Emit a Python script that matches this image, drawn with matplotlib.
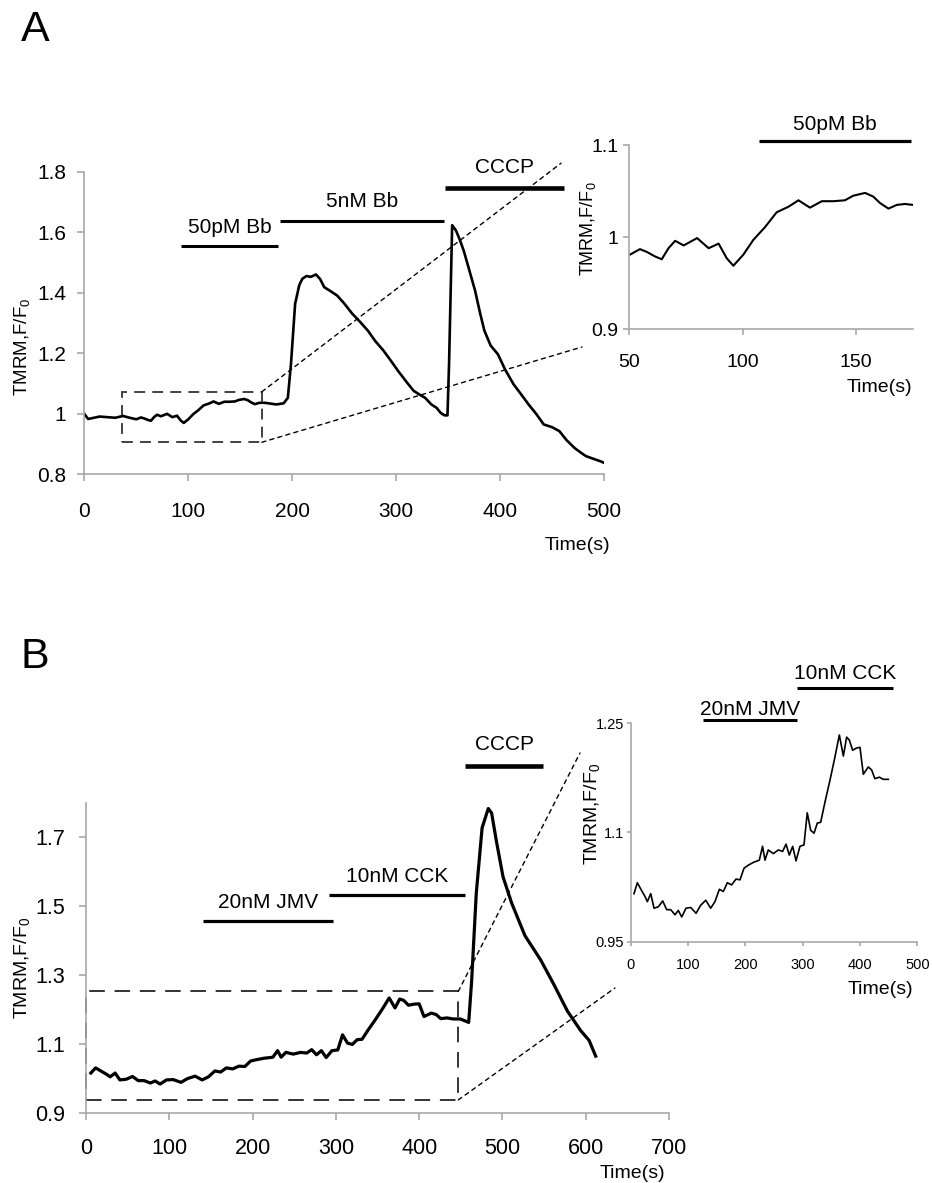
import matplotlib
matplotlib.use("Agg")
import matplotlib.pyplot as plt
from matplotlib.patches import Rectangle, ConnectionPatch
from matplotlib.ticker import FuncFormatter

plt.rcParams['font.family'] = ['Liberation Sans', 'DejaVu Sans']
plt.rcParams['mathtext.fontset'] = 'custom'
plt.rcParams['mathtext.rm'] = 'Liberation Sans'
plt.rcParams['mathtext.it'] = 'Liberation Sans'

# ---- Panel A: TMRM con bombesina (Bb) ----
tiempo_a = [0, 4, 15, 30, 37.5, 44, 50.3, 54.7, 57.7, 61.4, 64.3, 67.3, 70.2, 74,
            79.9, 85, 89.4, 93, 95.9, 100.3, 104.7, 109.9, 115, 120.2, 124.6,
            129.7, 134.9, 140, 145.1, 148.8, 154, 157.6, 160.6, 164.3, 168,
            171.6, 175, 185, 192, 196, 199, 203, 207, 210, 214, 218, 223, 227,
            231, 237, 243.5, 250, 258, 265, 273, 280, 288, 295, 302, 310, 317,
            323, 328, 334, 339, 343, 346.6, 349.5, 351, 354, 357.6, 361, 365,
            370, 376, 381, 385, 391, 398, 405, 413, 420, 427.5, 435, 442, 450,
            457, 464, 471.7, 478, 482.7, 490, 496.7, 500]
tmrm_a = [1.0, 0.982, 0.99, 0.986, 0.992, 0.986, 0.981, 0.987, 0.984, 0.979,
          0.976, 0.988, 0.996, 0.991, 0.999, 0.988, 0.993, 0.977, 0.969, 0.981,
          0.997, 1.011, 1.027, 1.033, 1.04, 1.032, 1.039, 1.039, 1.04, 1.045,
          1.048, 1.044, 1.037, 1.031, 1.035, 1.036, 1.035, 1.03, 1.034, 1.052,
          1.163, 1.363, 1.425, 1.446, 1.455, 1.452, 1.46, 1.445, 1.418, 1.405,
          1.39, 1.365, 1.33, 1.305, 1.274, 1.24, 1.208, 1.175, 1.141, 1.105,
          1.075, 1.062, 1.052, 1.03, 1.019, 1.002, 0.994, 0.994, 1.163, 1.623,
          1.606, 1.578, 1.54, 1.48, 1.407, 1.33, 1.274, 1.225, 1.196, 1.145,
          1.097, 1.065, 1.03, 0.998, 0.964, 0.955, 0.942, 0.912, 0.886, 0.87,
          0.859, 0.85, 0.842, 0.837]

farmacos_a = ['50pM Bb', '5nM Bb', 'CCCP']
inicio_a = [93, 188, 347.5]
fin_a = [187, 346, 462]

# ---- Panel B: TMRM con JMV y CCK ----
tiempo_b = [5.8, 11.6, 19.2, 25, 29, 35, 40.7, 48.3, 55.8, 62.8, 69.8, 77.3, 83,
            89, 96.5, 104.7, 114, 122, 131, 139.5, 147, 154.7, 161.6, 168.6, 176,
            183.7, 190.7, 197.7, 205, 214, 224.4, 230, 234.3, 240, 248.8, 257.6,
            265, 271, 276.7, 282.6, 288.4, 295.3, 302.3, 308, 314, 319.8, 325.6,
            331.4, 339, 347.7, 356.4, 364, 371, 376.7, 381.4, 387.2, 394, 400,
            405.8, 414.5, 420.3, 426, 433.7, 440.7, 449.4, 459.5, 463, 468.6,
            475.6, 483, 487, 492.7, 500.7, 511, 527, 546, 562, 578, 594, 604, 612]
tmrm_b = [1.016, 1.031, 1.020, 1.012, 1.005, 1.016, 0.996, 0.998, 1.006, 0.994,
          0.994, 0.987, 0.993, 0.984, 0.996, 0.997, 0.989, 1.0, 1.007, 0.996,
          1.005, 1.022, 1.019, 1.031, 1.028, 1.036, 1.035, 1.051, 1.055, 1.059,
          1.062, 1.081, 1.062, 1.076, 1.071, 1.076, 1.074, 1.084, 1.069, 1.081,
          1.061, 1.081, 1.083, 1.127, 1.103, 1.099, 1.113, 1.114, 1.142, 1.172,
          1.204, 1.234, 1.205, 1.231, 1.227, 1.213, 1.216, 1.217, 1.18, 1.19,
          1.186, 1.174, 1.176, 1.173, 1.173, 1.163, 1.282, 1.538, 1.728, 1.784,
          1.771, 1.69, 1.586, 1.51, 1.415, 1.344, 1.272, 1.196, 1.139, 1.111,
          1.065]

farmacos_b = ['20nM JMV', '10nM CCK', 'CCCP']
inicio_b = [140, 292, 455]
fin_b = [296, 455, 549]

GRIS = '#a8a8a8'
W, H = 932, 1183


def ejes(left, top, right, bottom):
    # posicion en pixeles de la imagen original
    return fig.add_axes([left / W, 1 - bottom / H, (right - left) / W, (bottom - top) / H])


def estilo(ax, fs, pad_x, pad_y, largo):
    for s in ['top', 'right']:
        ax.spines[s].set_visible(False)
    for s in ['left', 'bottom']:
        ax.spines[s].set_color(GRIS)
        ax.spines[s].set_linewidth(1.2)
    ax.tick_params(colors=GRIS, labelcolor='black', labelsize=fs, length=largo, width=1.2)
    ax.tick_params(axis='x', pad=pad_x)
    ax.tick_params(axis='y', pad=pad_y)
    ax.yaxis.set_major_formatter(FuncFormatter(lambda v, p: '%g' % round(v, 3)))


def etiqueta_y(ax, fs, x, y):
    ax.set_ylabel('TMRM,F/F$_0$', fontsize=fs, va='center')
    ax.yaxis.set_label_coords(x, y)


def barra(ax, x0, x1, y, texto, ty, lw, fs):
    ax.plot([x0, x1], [y, y], color='black', lw=lw, solid_capstyle='butt', clip_on=False)
    ax.text((x0 + x1) / 2, ty, texto, ha='center', va='center', fontsize=fs)


fig = plt.figure(figsize=(9.32, 11.83), dpi=100)

# ===== Panel A principal =====
ax_a = ejes(84, 171.7, 604, 474)
ax_a.plot(tiempo_a, tmrm_a, color='black', lw=1.9)
ax_a.set_xlim(0, 500)
ax_a.set_ylim(0.8, 1.8)
ax_a.set_xticks(range(0, 501, 100))
ax_a.set_yticks([0.8, 1.0, 1.2, 1.4, 1.6, 1.8])
estilo(ax_a, 15, 15, 8, 5)
etiqueta_y(ax_a, 13.5, -0.119, 0.421)
ax_a.text(1.012, -0.235, 'Time(s)', transform=ax_a.transAxes, ha='right', va='center', fontsize=14)
ys_a = [1.554, 1.638, 1.745]
ts_a = [1.614, 1.70, 1.814]
lws_a = [2.2, 2.2, 3.3]
for i in range(3):
    barra(ax_a, inicio_a[i], fin_a[i], ys_a[i], farmacos_a[i], ts_a[i], lws_a[i], 15)
ax_a.add_patch(Rectangle((37, 0.905), 171 - 37, 1.072 - 0.905, fill=False,
                         ec='#333333', lw=1.3, ls=(0, (6, 4))))

# ===== Panel A inset =====
ins_a = ejes(629.3, 145, 912.7, 329.3)
ins_a.plot(tiempo_a, tmrm_a, color='black', lw=1.5)
ins_a.set_xlim(50, 175)
ins_a.set_ylim(0.9, 1.1)
ins_a.set_xticks([50, 100, 150])
ins_a.set_yticks([0.9, 1.0, 1.1])
estilo(ins_a, 14, 14, 4, 4)
etiqueta_y(ins_a, 13, -0.146, 0.544)
ins_a.text(1.0, -0.318, 'Time(s)', transform=ins_a.transAxes, ha='right', va='center', fontsize=14)
barra(ins_a, 107.2, 174.3, 1.104, farmacos_a[0], 1.122, 2.3, 15)

for xa, xb in [((171, 1.072), (-0.241, 0.901)), ((171, 0.905), (-0.167, -0.096))]:
    con = ConnectionPatch(xyA=xa, coordsA=ax_a.transData, xyB=xb, coordsB=ins_a.transAxes,
                          color='black', lw=1.0, ls=(0, (3, 3)))
    fig.add_artist(con)

# ===== Panel B principal =====
ax_b = ejes(86, 803, 669, 1113)
ax_b.plot(tiempo_b, tmrm_b, color='black', lw=2.3)
ax_b.set_xlim(0, 700)
ax_b.set_ylim(0.9, 1.8)
ax_b.set_xticks(range(0, 701, 100))
ax_b.set_yticks([0.9, 1.1, 1.3, 1.5, 1.7])
estilo(ax_b, 15.5, 13, 10, 5)
etiqueta_y(ax_b, 14, -0.110, 0.468)
ax_b.text(0.994, -0.194, 'Time(s)', transform=ax_b.transAxes, ha='right', va='center', fontsize=14)
ys_b = [1.457, 1.534, 1.908]
ts_b = [1.51, 1.586, 1.971]
lws_b = [2.3, 2.3, 3.3]
for i in range(3):
    barra(ax_b, inicio_b[i], fin_b[i], ys_b[i], farmacos_b[i], ts_b[i], lws_b[i], 15)
ax_b.add_patch(Rectangle((0, 0.938), 447, 1.253 - 0.938, fill=False,
                         ec='#333333', lw=1.4, ls=(0, (8, 5)), clip_on=False))

# ===== Panel B inset =====
n_ins = sum(1 for t in tiempo_b if t <= 450)
ins_b = ejes(630.7, 723.3, 917.3, 941.7)
ins_b.plot(tiempo_b[:n_ins], tmrm_b[:n_ins], color='black', lw=1.2)
ins_b.set_xlim(0, 500)
ins_b.set_ylim(0.95, 1.25)
ins_b.set_xticks(range(0, 501, 100))
ins_b.set_yticks([0.95, 1.1, 1.25])
estilo(ins_b, 10.5, 9, 2, 3)
etiqueta_y(ins_b, 14, -0.135, 0.585)
ins_b.text(0.986, -0.221, 'Time(s)', transform=ins_b.transAxes, ha='right', va='center', fontsize=14)
barra(ins_b, 125.6, 290.7, 1.2546, farmacos_b[0], 1.269, 2.2, 15)
barra(ins_b, 289.5, 458, 1.299, farmacos_b[1], 1.319, 2.2, 15)

for xa, xb in [((447, 1.253), (-0.177, 0.864)), ((447, 0.938), (-0.055, -0.212))]:
    con = ConnectionPatch(xyA=xa, coordsA=ax_b.transData, xyB=xb, coordsB=ins_b.transAxes,
                          color='black', lw=1.0, ls=(0, (3, 3)))
    fig.add_artist(con)

# letras de panel
fig.text(21 / W, 1 - 30 / H, 'A', fontsize=31, ha='left', va='center')
fig.text(21 / W, 1 - 657 / H, 'B', fontsize=31, ha='left', va='center')

fig.savefig('out.png', dpi=100)
